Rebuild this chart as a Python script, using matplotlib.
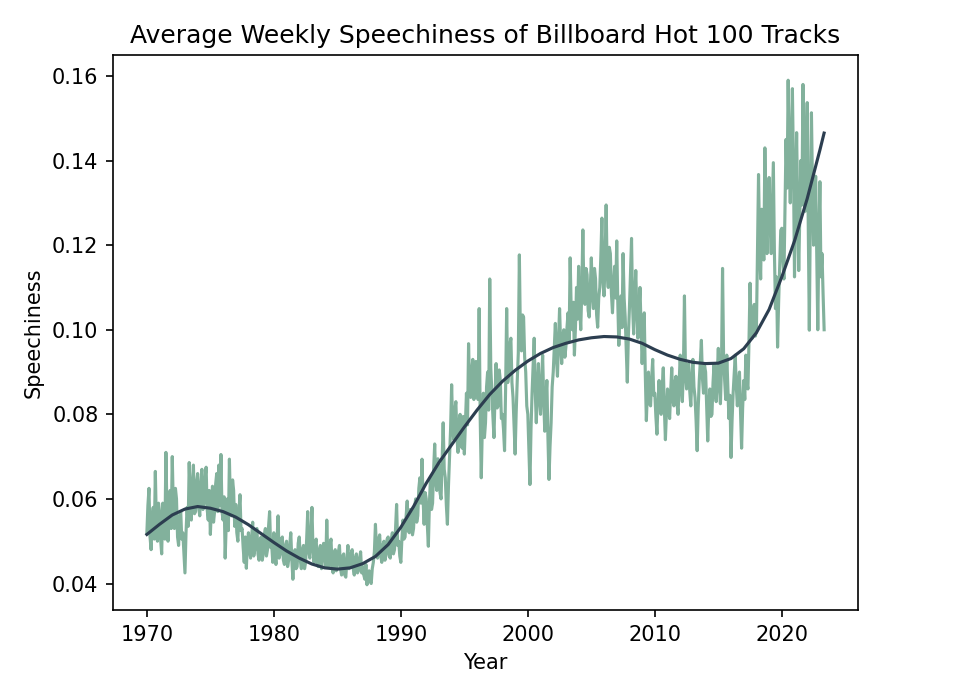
import numpy as np
import matplotlib
matplotlib.use("Agg")
import matplotlib.pyplot as plt

# Weekly average speechiness
# (about one reading per month, Jan 1970 - spring 2023)
start_year = 1970.0
step_years = 1.0 / 12.0
speechiness = [
    # 1970
    0.052, 0.0585, 0.0625, 0.051, 0.048, 0.0555, 0.058, 0.0505, 0.0665, 0.054, 0.050, 0.059,
    # 1971
    0.057, 0.0505, 0.047, 0.059, 0.055, 0.0505, 0.071, 0.057, 0.050, 0.0565, 0.062, 0.053,
    # 1972
    0.070, 0.058, 0.053, 0.0625, 0.060, 0.051, 0.049, 0.0555, 0.057, 0.0505, 0.052, 0.047,
    # 1973
    0.0425, 0.052, 0.058, 0.0535, 0.0686, 0.060, 0.055, 0.0635, 0.068, 0.0565, 0.057, 0.064,
    # 1974
    0.066, 0.058, 0.056, 0.0635, 0.067, 0.0575, 0.059, 0.065, 0.0675, 0.0575, 0.055, 0.062,
    # 1975
    0.0516, 0.058, 0.063, 0.0545, 0.057, 0.0635, 0.066, 0.057, 0.068, 0.0585, 0.0705, 0.057,
    # 1976
    0.055, 0.0605, 0.046, 0.054, 0.060, 0.0525, 0.0694, 0.058, 0.056, 0.0645, 0.062, 0.0535,
    # 1977
    0.0587, 0.052, 0.050, 0.057, 0.061, 0.0525, 0.053, 0.0485, 0.045, 0.051, 0.0436, 0.0495,
    # 1978
    0.052, 0.0475, 0.046, 0.051, 0.0545, 0.0465, 0.048, 0.0525, 0.053, 0.047, 0.0455, 0.0505,
    # 1979
    0.051, 0.0455, 0.047, 0.0515, 0.053, 0.0465, 0.048, 0.0535, 0.057, 0.0485, 0.049, 0.045,
    # 1980
    0.052, 0.047, 0.0445, 0.050, 0.056, 0.046, 0.047, 0.0505, 0.051, 0.0455, 0.0445, 0.049,
    # 1981
    0.050, 0.044, 0.0455, 0.049, 0.052, 0.0455, 0.041, 0.0465, 0.048, 0.0435, 0.044, 0.0495,
    # 1982
    0.051, 0.0455, 0.0435, 0.048, 0.049, 0.0435, 0.045, 0.0505, 0.057, 0.0475, 0.046, 0.0515,
    # 1983
    0.058, 0.048, 0.045, 0.0495, 0.0505, 0.0445, 0.044, 0.048, 0.049, 0.0435, 0.0455, 0.0495,
    # 1984
    0.049, 0.044, 0.055, 0.0465, 0.044, 0.049, 0.0505, 0.0445, 0.0425, 0.047, 0.048, 0.043,
    # 1985
    0.0445, 0.0475, 0.049, 0.0435, 0.042, 0.0465, 0.047, 0.042, 0.0415, 0.0455, 0.049, 0.0435,
    # 1986
    0.044, 0.047, 0.048, 0.0435, 0.042, 0.046, 0.047, 0.0425, 0.043, 0.046, 0.0475, 0.0425,
    # 1987
    0.044, 0.042, 0.041, 0.0445, 0.0397, 0.0425, 0.043, 0.0405, 0.040, 0.0435, 0.045, 0.0475,
    # 1988
    0.054, 0.048, 0.046, 0.0505, 0.0515, 0.0465, 0.045, 0.049, 0.050, 0.0455, 0.047, 0.0505,
    # 1989
    0.051, 0.0465, 0.046, 0.0505, 0.052, 0.047, 0.048, 0.053, 0.0587, 0.049, 0.050, 0.0465,
    # 1990
    0.045, 0.0505, 0.055, 0.0505, 0.051, 0.056, 0.0595, 0.0525, 0.052, 0.0575, 0.057, 0.0515,
    # 1991
    0.053, 0.058, 0.060, 0.0545, 0.056, 0.0625, 0.065, 0.059, 0.0694, 0.060, 0.054, 0.0615,
    # 1992
    0.060, 0.054, 0.0488, 0.059, 0.065, 0.0575, 0.059, 0.067, 0.073, 0.064, 0.062, 0.0695,
    # 1993
    0.068, 0.0615, 0.060, 0.069, 0.078, 0.067, 0.065, 0.0585, 0.054, 0.063, 0.070, 0.0765,
    # 1994
    0.087, 0.077, 0.074, 0.081, 0.083, 0.0745, 0.071, 0.0785, 0.080, 0.0725, 0.072, 0.0795,
    # 1995
    0.0706, 0.078, 0.085, 0.0775, 0.0967, 0.086, 0.084, 0.0905, 0.093, 0.0835, 0.085, 0.0925,
    # 1996
    0.092, 0.0835, 0.105, 0.079, 0.065, 0.077, 0.085, 0.0745, 0.078, 0.0865, 0.090, 0.081,
    # 1997
    0.112, 0.091, 0.085, 0.0795, 0.0745, 0.0845, 0.092, 0.0815, 0.082, 0.0905, 0.088, 0.079,
    # 1998
    0.080, 0.0765, 0.0714, 0.086, 0.105, 0.0875, 0.090, 0.0965, 0.098, 0.0875, 0.084, 0.0775,
    # 1999
    0.0706, 0.0805, 0.088, 0.0945, 0.1177, 0.098, 0.095, 0.1035, 0.103, 0.0935, 0.090, 0.082,
    # 2000
    0.080, 0.0715, 0.0634, 0.0765, 0.085, 0.0915, 0.098, 0.0855, 0.078, 0.0865, 0.092, 0.0835,
    # 2001
    0.080, 0.0875, 0.094, 0.0835, 0.076, 0.0835, 0.088, 0.0745, 0.0646, 0.0725, 0.078, 0.0865,
    # 2002
    0.090, 0.0955, 0.1015, 0.0935, 0.089, 0.0975, 0.105, 0.0965, 0.092, 0.0985, 0.100, 0.0935,
    # 2003
    0.096, 0.1005, 0.104, 0.0975, 0.117, 0.1045, 0.100, 0.1065, 0.094, 0.1005, 0.110, 0.1025,
    # 2004
    0.115, 0.1055, 0.100, 0.1095, 0.1236, 0.1085, 0.106, 0.1145, 0.113, 0.1045, 0.103, 0.1095,
    # 2005
    0.117, 0.1085, 0.105, 0.1145, 0.112, 0.1035, 0.1006, 0.1075, 0.110, 0.1175, 0.1264, 0.1115,
    # 2006
    0.108, 0.1165, 0.1295, 0.1135, 0.110, 0.1195, 0.118, 0.1085, 0.104, 0.1105, 0.115, 0.1075,
    # 2007
    0.121, 0.1065, 0.0963, 0.1035, 0.108, 0.1005, 0.118, 0.1075, 0.103, 0.0955, 0.0876, 0.0985,
    # 2008
    0.105, 0.1135, 0.1216, 0.1055, 0.099, 0.1075, 0.114, 0.1045, 0.098, 0.1045, 0.110, 0.1005,
    # 2009
    0.092, 0.0985, 0.104, 0.0895, 0.0785, 0.0855, 0.090, 0.0825, 0.082, 0.0885, 0.093, 0.0845,
    # 2010
    0.085, 0.0795, 0.0753, 0.0825, 0.088, 0.0815, 0.080, 0.0865, 0.091, 0.0815, 0.074, 0.0805,
    # 2011
    0.086, 0.0815, 0.079, 0.0855, 0.091, 0.0835, 0.082, 0.0875, 0.089, 0.0825, 0.080, 0.0875,
    # 2012
    0.094, 0.0865, 0.083, 0.0905, 0.108, 0.0895, 0.086, 0.0915, 0.092, 0.0855, 0.082, 0.0885,
    # 2013
    0.093, 0.0865, 0.084, 0.0785, 0.0714, 0.0815, 0.088, 0.0925, 0.0975, 0.0885, 0.085, 0.0915,
    # 2014
    0.090, 0.0815, 0.0737, 0.0815, 0.086, 0.0795, 0.080, 0.0875, 0.092, 0.0855, 0.083, 0.0895,
    # 2015
    0.0956, 0.0865, 0.0825, 0.0915, 0.1145, 0.0935, 0.088, 0.0835, 0.094, 0.0865, 0.079, 0.0845,
    # 2016
    0.0698, 0.0785, 0.085, 0.0895, 0.094, 0.0865, 0.082, 0.0875, 0.090, 0.0805, 0.072, 0.0815,
    # 2017
    0.088, 0.0835, 0.094, 0.0875, 0.086, 0.0975, 0.111, 0.1005, 0.098, 0.1045, 0.106, 0.0985,
    # 2018
    0.100, 0.1185, 0.1367, 0.1205, 0.112, 0.1285, 0.124, 0.1165, 0.143, 0.1265, 0.118, 0.1305,
    # 2019
    0.136, 0.1245, 0.118, 0.1285, 0.1395, 0.1185, 0.105, 0.1125, 0.0959, 0.1065, 0.115, 0.1235,
    # 2020
    0.124, 0.1165, 0.112, 0.1285, 0.145, 0.1335, 0.159, 0.1405, 0.130, 0.1445, 0.157, 0.1385,
    # 2021
    0.1125, 0.1305, 0.1466, 0.1285, 0.114, 0.1265, 0.140, 0.1295, 0.158, 0.1395, 0.128, 0.1445,
    # 2022
    0.1537, 0.1245, 0.0999, 0.1285, 0.1513, 0.1335, 0.120, 0.1305, 0.1363, 0.1185, 0.100, 0.1215,
    # 2023
    0.135, 0.1125, 0.118, 0.1085, 0.100,
]

# Polynomial trend line (one reading per year + end point)
trend_years = [
    1970, 1971, 1972, 1973, 1974, 1975, 1976, 1977, 1978, 1979,
    1980, 1981, 1982, 1983, 1984, 1985, 1986, 1987, 1988, 1989,
    1990, 1991, 1992, 1993, 1994, 1995, 1996, 1997, 1998, 1999,
    2000, 2001, 2002, 2003, 2004, 2005, 2006, 2007, 2008, 2009,
    2010, 2011, 2012, 2013, 2014, 2015, 2016, 2017, 2018, 2019,
    2020, 2021, 2022, 2023, 2023.33,
]
trend_values = [
    0.0516, 0.0540, 0.0562, 0.0576, 0.0582, 0.0578, 0.0570, 0.0557, 0.0539, 0.0518,
    0.0497, 0.0477, 0.0460, 0.0446, 0.0437, 0.0434, 0.0437, 0.0447, 0.0464, 0.0492,
    0.0533, 0.0582, 0.0637, 0.0686, 0.0728, 0.0770, 0.0810, 0.0847, 0.0878, 0.0904,
    0.0926, 0.0944, 0.0958, 0.0968, 0.0976, 0.0981, 0.0984, 0.0983, 0.0978, 0.0968,
    0.0953, 0.0940, 0.0930, 0.0923, 0.0920, 0.0921, 0.0932, 0.0955, 0.0993, 0.1048,
    0.1125, 0.1210, 0.1310, 0.1425, 0.1465,
]

years = start_year + step_years * np.arange(len(speechiness))

W, H, DPI = 955, 691, 150
fig = plt.figure(figsize=(W / DPI, H / DPI), dpi=DPI)
ax = fig.add_axes([113 / W, (H - 610) / H, 745 / W, 555 / H])

ax.plot(years, speechiness, color="#82b19c", linewidth=1.5)
ax.plot(trend_years, trend_values, color="#2c3e50", linewidth=1.5)

ax.set_title("Average Weekly Speechiness of Billboard Hot 100 Tracks")
ax.set_xlabel("Year")
ax.set_ylabel("Speechiness")

fig.savefig("out.png", dpi=DPI)
